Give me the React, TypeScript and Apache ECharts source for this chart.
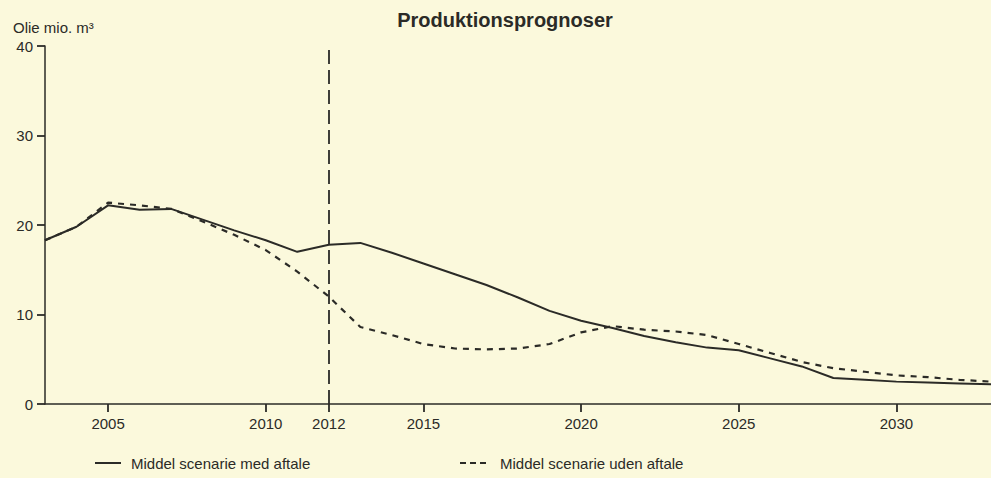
import React, { useEffect, useRef } from "react";
import * as echarts from "echarts";

const years = [2003, 2004, 2005, 2006, 2007, 2008, 2009, 2010, 2011, 2012, 2013, 2014, 2015, 2016, 2017, 2018, 2019, 2020, 2021, 2022, 2023, 2024, 2025, 2026, 2027, 2028, 2029, 2030, 2031, 2032, 2033];
const medAftale = [18.3, 19.8, 22.2, 21.7, 21.8, 20.6, 19.4, 18.3, 17.0, 17.8, 18.0, 16.9, 15.7, 14.5, 13.3, 11.9, 10.4, 9.3, 8.5, 7.6, 6.9, 6.3, 6.0, 5.1, 4.2, 2.9, 2.7, 2.5, 2.4, 2.3, 2.2];
const udenAftale = [18.3, 19.8, 22.5, 22.2, 21.8, 20.4, 18.9, 17.2, 14.8, 12.0, 8.6, 7.7, 6.7, 6.2, 6.1, 6.2, 6.7, 8.0, 8.7, 8.3, 8.1, 7.7, 6.7, 5.7, 4.7, 4.0, 3.6, 3.2, 3.0, 2.7, 2.5];
const xTickYears = [2005, 2010, 2012, 2015, 2020, 2025, 2030];
const agreementYear = 2012;
const seriesNames = ["Middel scenarie med aftale", "Middel scenarie uden aftale"];
const titleText = "Produktionsprognoser";
const unitText = "Olie mio. m³";

const INK = "#2b2b27";
const PAPER = "#fbf9dc";
const FONT = "Arial, 'Liberation Sans', sans-serif";

export default function App() {
  const ref = useRef<HTMLDivElement>(null);
  useEffect(() => {
    if (!ref.current) return;
    const chart = echarts.init(ref.current, undefined, { renderer: "svg" });
    const legendY = 463;
    chart.setOption({
      animation: false,
      backgroundColor: PAPER,
      textStyle: { fontFamily: FONT, color: INK },
      title: [
        {
          text: titleText,
          left: 500,
          textAlign: "center",
          top: 5,
          textStyle: { fontSize: 20, fontWeight: "bold", color: INK, fontFamily: FONT },
        },
        {
          text: unitText,
          left: 8,
          top: 15,
          textStyle: { fontSize: 15, fontWeight: "normal", color: INK, fontFamily: FONT },
        },
      ],
      graphic: [
        {
          type: "line",
          shape: { x1: 95, y1: legendY, x2: 121, y2: legendY },
          style: { stroke: INK, lineWidth: 2 },
        },
        {
          type: "text",
          x: 131,
          y: legendY,
          style: { text: seriesNames[0], fill: INK, font: `15px ${FONT}`, verticalAlign: "middle" },
        },
        {
          type: "line",
          shape: { x1: 460, y1: legendY, x2: 487, y2: legendY },
          style: { stroke: INK, lineWidth: 2, lineDash: [6, 4] },
        },
        {
          type: "text",
          x: 500,
          y: legendY,
          style: { text: seriesNames[1], fill: INK, font: `15px ${FONT}`, verticalAlign: "middle" },
        },
      ],
      grid: { left: 45, right: 0, top: 46, bottom: 74, containLabel: false },
      xAxis: {
        type: "value",
        min: 2003,
        max: 2033,
        axisLine: { show: true, onZero: false, lineStyle: { color: INK, width: 1.5 } },
        axisTick: { show: true, inside: false, length: 8, customValues: xTickYears, lineStyle: { color: INK, width: 1.8 } },
        axisLabel: { customValues: xTickYears, fontSize: 15, color: INK, margin: 12, fontFamily: FONT, formatter: (v: number) => String(v) },
        splitLine: { show: false },
      },
      yAxis: {
        type: "value",
        min: 0,
        max: 40,
        interval: 10,
        axisLine: { show: true, lineStyle: { color: INK, width: 1.5 } },
        axisTick: { show: true, inside: false, length: 8, lineStyle: { color: INK, width: 1.8 } },
        axisLabel: { fontSize: 15, color: INK, margin: 12, fontFamily: FONT },
        splitLine: { show: false },
      },
      series: [
        {
          name: seriesNames[0],
          type: "line",
          data: years.map((y, i) => [y, medAftale[i]]),
          symbol: "none",
          color: INK,
          lineStyle: { color: INK, width: 2 },
          markLine: {
            silent: true,
            symbol: "none",
            label: { show: false },
            lineStyle: { color: INK, width: 1.8, type: [14, 6] },
            data: [{ xAxis: agreementYear }],
          },
        },
        {
          name: seriesNames[1],
          type: "line",
          data: years.map((y, i) => [y, udenAftale[i]]),
          symbol: "none",
          color: INK,
          lineStyle: { color: INK, width: 2.2, type: [6, 6] },
        },
      ],
    });
    return () => chart.dispose();
  }, []);
  return (
    <div
      ref={ref}
      style={{ position: "fixed", left: 0, top: 0, width: 991, height: 478, background: PAPER }}
    />
  );
}
